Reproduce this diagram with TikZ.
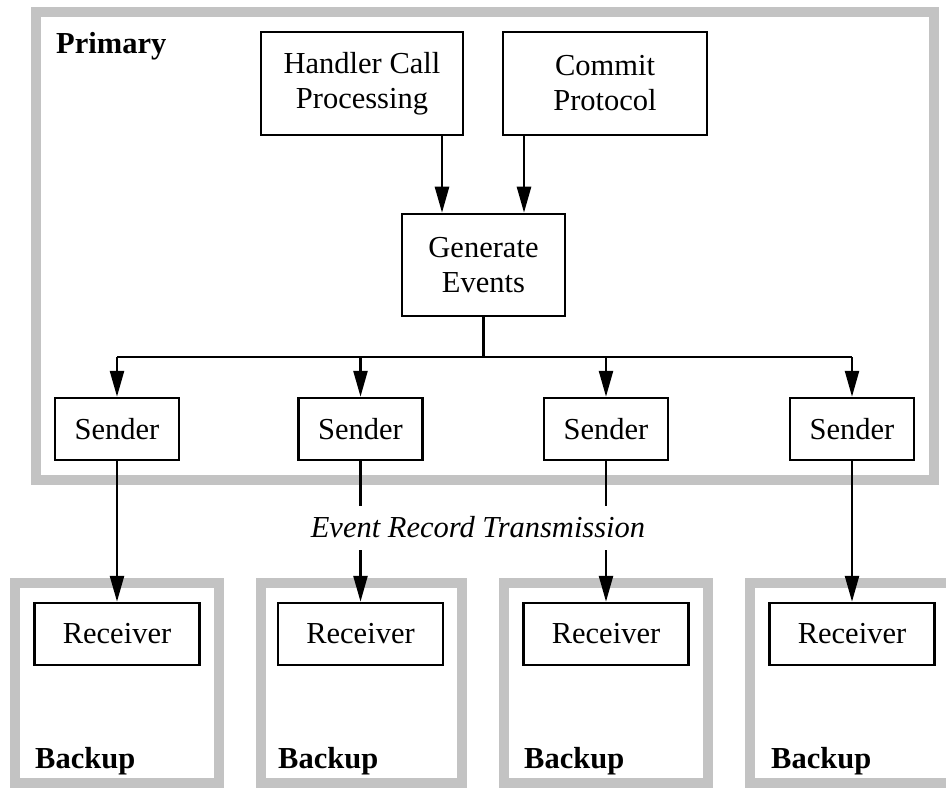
\documentclass[tikz,border=0pt]{standalone}
\usepackage{fontspec}
\setmainfont{Liberation Serif}
\usetikzlibrary{arrows.meta}
\definecolor{framegray}{RGB}{195,195,195}
\begin{document}
\begin{tikzpicture}[x=1pt,y=-1pt,
  box/.style={draw,line width=2.5pt,inner sep=0pt,align=center,
    font=\fontsize{30.5}{35}\selectfont},
  frame/.style={draw=framegray,line width=10pt},
  conn/.style={line width=2.5pt},
  arr/.style={conn,-{Triangle[length=26pt,width=14pt]}},
  title/.style={font=\fontsize{30.5}{35}\selectfont\bfseries,inner sep=0pt,anchor=base west},
]
\clip (0,0) rectangle (946,789);

% grey enclosures: primary site and the four backup sites
\draw[frame] (36,12) rectangle (934,480);
\draw[frame] (15,583) rectangle (219,783);
\draw[frame] (261,583) rectangle (462,783);
\draw[frame] (504,583) rectangle (708,783);
\draw[frame] (750,583) rectangle (954,783);

\node[title] (prim) at (56,54) {Primary};
\node[title] (bk1) at (35,768) {Backup};
\node[title] (bk2) at (278,768) {Backup};
\node[title] (bk3) at (524,768) {Backup};
\node[title] (bk4) at (771,768) {Backup};

% processing boxes
\node[box,minimum width=202pt,minimum height=103pt] (hcp) at (362,83.5) {Handler Call\\Processing};
\node[box,minimum width=204pt,minimum height=103pt] (cp) at (605,83.5) {Commit\\Protocol};
\node[box,minimum width=163pt,minimum height=102pt] (gen) at (483.5,265) {Generate\\Events};

\foreach \i/\x in {1/117,2/360.5,3/606,4/852}{
  \node[box,minimum width=124pt,minimum height=62pt] (s\i) at (\x,429) {Sender};
  \node[box,minimum width=165pt,minimum height=62pt] (r\i) at (\x,634) {Receiver};
}

% helper coordinates for connector routing
\coordinate (hx) at (442,0);
\coordinate (cx) at (524,0);
\coordinate (bus) at (484,357);
\coordinate (gapTop) at (0,506);
\coordinate (gapBot) at (0,550);

\draw[arr] (hcp.south -| hx) -- (gen.north -| hx);
\draw[arr] (cp.south -| cx) -- (gen.north -| cx);

\draw[conn] (gen.south) -- (gen.south |- bus);
\draw[conn] (s1.north |- bus) -- (s4.north |- bus);
\foreach \i in {1,...,4}{
  \draw[arr] (s\i.north |- bus) -- (s\i.north);
}

\draw[arr] (s1.south) -- (r1.north);
\draw[arr] (s4.south) -- (r4.north);
\foreach \i in {2,3}{
  \draw[conn] (s\i.south) -- (s\i.south |- gapTop);
  \draw[arr] (s\i.south |- gapBot) -- (r\i.north);
}

\node[font=\fontsize{30.5}{35}\selectfont\itshape,inner sep=0pt,anchor=base] (evt) at (478,537) {Event Record Transmission};
\end{tikzpicture}
\end{document}
